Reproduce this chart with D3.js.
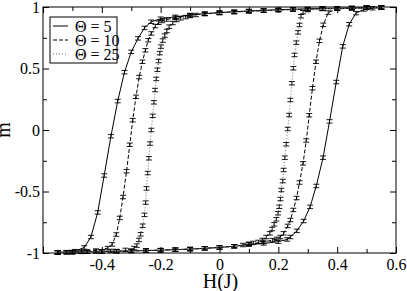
<!DOCTYPE html>
<html>
<head>
<meta charset="utf-8">
<script src="https://cdn.jsdelivr.net/npm/d3@7"></script>
<style>
  body { margin: 0; background: #fff; }
  svg { display: block; }
  .axis .domain { display: none; }
  .axis line { stroke: #000; }
</style>
</head>
<body>
<div id="chart"></div>
<script>

// Theta = 5 : rising branch (H increasing) and falling branch (H decreasing), [H, m]
var rise5 = [[-0.55,-0.995],[-0.50,-0.993],[-0.45,-0.990],[-0.40,-0.988],[-0.35,-0.985],[-0.30,-0.983],
    [-0.25,-0.980],[-0.20,-0.977],[-0.15,-0.973],[-0.10,-0.968],[-0.05,-0.962],[0.00,-0.955],[0.05,-0.945],
    [0.10,-0.930],[0.15,-0.922],[0.20,-0.908],[0.23,-0.890],[0.241,-0.870],[0.263,-0.820],[0.286,-0.740],
    [0.308,-0.625],[0.329,-0.455],[0.352,-0.225],[0.374,0.070],[0.397,0.390],[0.419,0.680],[0.441,0.860],
    [0.464,0.950],[0.49,0.980],[0.52,0.990],[0.55,0.995]];
var fall5 = [[0.55,0.997],[0.50,0.995],[0.45,0.993],[0.40,0.990],[0.35,0.988],[0.30,0.985],[0.25,0.982],
    [0.20,0.978],[0.15,0.973],[0.10,0.968],[0.05,0.962],[0.00,0.955],[-0.05,0.946],[-0.10,0.935],
    [-0.15,0.920],[-0.20,0.905],[-0.232,0.880],[-0.255,0.830],[-0.277,0.745],[-0.300,0.635],[-0.323,0.470],
    [-0.346,0.235],[-0.369,-0.050],[-0.392,-0.370],[-0.414,-0.670],[-0.437,-0.870],[-0.46,-0.955],
    [-0.49,-0.985],[-0.52,-0.993],[-0.55,-0.996]];

// Theta = 10
var rise10 = [[-0.55,-0.995],[-0.50,-0.993],[-0.45,-0.990],[-0.40,-0.988],[-0.35,-0.985],[-0.30,-0.983],
    [-0.25,-0.980],[-0.20,-0.977],[-0.15,-0.973],[-0.10,-0.968],[-0.05,-0.962],[0.00,-0.955],[0.05,-0.945],
    [0.10,-0.930],[0.15,-0.910],[0.18,-0.895],[0.195,-0.885],[0.207,-0.870],[0.218,-0.840],[0.232,-0.780],
    [0.241,-0.732],[0.251,-0.650],[0.262,-0.553],[0.272,-0.427],[0.284,-0.271],[0.295,-0.085],[0.305,0.120],
    [0.316,0.340],[0.328,0.555],[0.340,0.725],[0.353,0.855],[0.370,0.955],[0.40,0.985],[0.45,0.990],
    [0.50,0.994],[0.55,0.996]];
var fall10 = [[0.55,0.996],[0.50,0.994],[0.45,0.990],[0.40,0.987],[0.35,0.985],[0.30,0.982],[0.25,0.979],
    [0.20,0.975],[0.15,0.970],[0.10,0.965],[0.05,0.960],[0.00,0.953],[-0.05,0.945],[-0.10,0.932],
    [-0.15,0.912],[-0.18,0.898],[-0.195,0.886],[-0.207,0.872],[-0.218,0.845],[-0.232,0.785],[-0.242,0.730],
    [-0.252,0.648],[-0.262,0.555],[-0.273,0.430],[-0.284,0.270],[-0.295,0.080],[-0.305,-0.120],
    [-0.316,-0.335],[-0.328,-0.545],[-0.339,-0.715],[-0.351,-0.850],[-0.365,-0.930],[-0.38,-0.960],
    [-0.42,-0.980],[-0.47,-0.990],[-0.52,-0.994],[-0.55,-0.995]];

// Theta = 25
var rise25 = [[-0.55,-0.995],[-0.50,-0.993],[-0.45,-0.990],[-0.40,-0.988],[-0.35,-0.985],[-0.30,-0.983],
    [-0.25,-0.980],[-0.20,-0.977],[-0.15,-0.973],[-0.10,-0.968],[-0.05,-0.962],[0.00,-0.955],[0.05,-0.945],
    [0.08,-0.935],[0.10,-0.925],[0.115,-0.918],[0.132,-0.910],[0.146,-0.894],[0.159,-0.870],[0.171,-0.840],
    [0.179,-0.805],[0.186,-0.767],[0.193,-0.726],[0.199,-0.677],[0.203,-0.624],[0.207,-0.561],[0.210,-0.488],
    [0.215,-0.415],[0.218,-0.325],[0.222,-0.225],[0.227,-0.116],[0.232,0.008],[0.237,0.122],[0.241,0.244],
    [0.246,0.380],[0.251,0.502],[0.255,0.610],[0.261,0.710],[0.267,0.794],[0.272,0.854],[0.277,0.925],
    [0.284,0.958],[0.30,0.975],[0.35,0.985],[0.40,0.988],[0.45,0.991],[0.50,0.994],[0.55,0.996]];
var fall25 = [[0.55,0.996],[0.50,0.994],[0.45,0.991],[0.40,0.988],[0.35,0.985],[0.30,0.982],[0.25,0.979],
    [0.20,0.975],[0.15,0.970],[0.10,0.965],[0.05,0.958],[0.00,0.950],[-0.05,0.942],[-0.08,0.935],
    [-0.10,0.927],[-0.115,0.918],[-0.132,0.908],[-0.146,0.894],[-0.159,0.870],[-0.171,0.840],[-0.179,0.805],
    [-0.186,0.768],[-0.193,0.727],[-0.199,0.678],[-0.203,0.625],[-0.207,0.560],[-0.211,0.490],[-0.215,0.415],
    [-0.219,0.325],[-0.223,0.225],[-0.227,0.115],[-0.232,0.000],[-0.236,-0.110],[-0.240,-0.230],
    [-0.244,-0.350],[-0.248,-0.475],[-0.251,-0.590],[-0.255,-0.690],[-0.261,-0.778],[-0.268,-0.848],
    [-0.274,-0.894],[-0.281,-0.940],[-0.29,-0.960],[-0.32,-0.975],[-0.37,-0.983],[-0.42,-0.988],
    [-0.47,-0.991],[-0.52,-0.994],[-0.55,-0.995]];

var seriesNames = ["\u0398 = 5", "\u0398 = 10", "\u0398 = 25"];
var errorBar = [0.014, 0.014, 0.014];

var xMajor = [-0.6, -0.4, -0.2, 0, 0.2, 0.4, 0.6];
var xLabels = ["", "-0.4", "-0.2", "0", "0.2", "0.4", "0.6"];
var yMajor = [-1, -0.5, 0, 0.5, 1];
var yLabels = ["-1", "-0.5", "0", "0.5", "1"];

var loops = [rise5.concat(fall5), rise10.concat(fall10), rise25.concat(fall25)];
var dashes = ["none", "4,2", "1,2"];
var lineColors = ["#000", "#000", "#666"];
var serif = "'Liberation Serif'";

var margin = { top: 7, right: 11, bottom: 38, left: 43 };
var width = 407 - margin.left - margin.right,
    height = 291 - margin.top - margin.bottom;

var svg = d3.select("#chart").append("svg")
    .attr("width", 407)
    .attr("height", 291)
    .append("g")
    .attr("transform", "translate(" + margin.left + "," + margin.top + ")");

var x = d3.scaleLinear().domain([-0.6, 0.6]).range([0, width]);
var y = d3.scaleLinear().domain([-1, 1]).range([height, 0]);

// minor ticks first, then majors with labels (all ticks point inward)
svg.append("g").attr("class", "axis")
    .attr("transform", "translate(0," + height + ")")
    .call(d3.axisBottom(x).tickValues(d3.range(-0.5, 0.6, 0.2)).tickSize(-4).tickFormat(""));
svg.append("g").attr("class", "axis")
    .attr("transform", "translate(0," + height + ")")
    .call(d3.axisBottom(x).tickValues(xMajor).tickSize(-6).tickPadding(6)
        .tickFormat(function(d, i) { return xLabels[i]; }));
svg.append("g").attr("class", "axis")
    .call(d3.axisTop(x).tickValues(d3.range(-0.5, 0.6, 0.2)).tickSize(-4).tickFormat(""));
svg.append("g").attr("class", "axis")
    .call(d3.axisTop(x).tickValues(xMajor).tickSize(-6).tickFormat(""));

svg.append("g").attr("class", "axis")
    .call(d3.axisLeft(y).tickValues([-0.75, -0.25, 0.25, 0.75]).tickSize(-4).tickFormat(""));
svg.append("g").attr("class", "axis")
    .call(d3.axisLeft(y).tickValues(yMajor).tickSize(-6).tickPadding(3)
        .tickFormat(function(d, i) { return yLabels[i]; }));
svg.append("g").attr("class", "axis")
    .attr("transform", "translate(" + width + ",0)")
    .call(d3.axisRight(y).tickValues([-0.75, -0.25, 0.25, 0.75]).tickSize(-4).tickFormat(""));
svg.append("g").attr("class", "axis")
    .attr("transform", "translate(" + width + ",0)")
    .call(d3.axisRight(y).tickValues(yMajor).tickSize(-6).tickFormat(""));

svg.selectAll(".axis text")
    .style("font-family", serif)
    .style("font-size", "16px")
    .style("fill", "#000");

// frame
svg.append("rect")
    .attr("width", width)
    .attr("height", height)
    .attr("fill", "none")
    .attr("stroke", "#000");

var line = d3.line()
    .x(function(d) { return x(d[0]); })
    .y(function(d) { return y(d[1]); });

loops.forEach(function(pts, k) {
    var g = svg.append("g").attr("class", "series");

    g.append("path")
        .attr("d", line(pts))
        .attr("fill", "none")
        .attr("stroke", lineColors[k])
        .attr("stroke-width", 1)
        .attr("stroke-dasharray", dashes[k]);

    // error bars
    var bars = g.selectAll(".err").data(pts).enter().append("g").attr("class", "err");
    bars.append("line")
        .attr("x1", function(d) { return x(d[0]); })
        .attr("x2", function(d) { return x(d[0]); })
        .attr("y1", function(d) { return y(d[1] - errorBar[k]); })
        .attr("y2", function(d) { return y(d[1] + errorBar[k]); });
    bars.append("line")
        .attr("x1", function(d) { return x(d[0]) - 3; })
        .attr("x2", function(d) { return x(d[0]) + 3; })
        .attr("y1", function(d) { return y(d[1] - errorBar[k]); })
        .attr("y2", function(d) { return y(d[1] - errorBar[k]); });
    bars.append("line")
        .attr("x1", function(d) { return x(d[0]) - 3; })
        .attr("x2", function(d) { return x(d[0]) + 3; })
        .attr("y1", function(d) { return y(d[1] + errorBar[k]); })
        .attr("y2", function(d) { return y(d[1] + errorBar[k]); });
    bars.selectAll("line").attr("stroke", "#000").attr("stroke-width", 0.9);
});

// axis titles
svg.append("text")
    .attr("x", width / 2 + 1)
    .attr("y", height + 35)
    .style("text-anchor", "middle")
    .style("font-family", serif)
    .style("font-size", "20px")
    .text("H(J)");

svg.append("text")
    .attr("transform", "translate(" + (10 - margin.left) + "," + (height / 2) + ") rotate(-90)")
    .style("text-anchor", "middle")
    .style("font-family", serif)
    .style("font-size", "20px")
    .text("m");

// legend
var legend = svg.append("g").attr("transform", "translate(7,10)");
legend.append("rect")
    .attr("width", 67)
    .attr("height", 46)
    .attr("fill", "#fff")
    .attr("stroke", "#000");

seriesNames.forEach(function(name, i) {
    var row = legend.append("g").attr("transform", "translate(0," + (9 + i * 14) + ")");
    row.append("line")
        .attr("x1", 3).attr("x2", 18)
        .attr("stroke", lineColors[i])
        .attr("stroke-dasharray", dashes[i]);
    row.append("text")
        .attr("x", 25)
        .attr("dy", "0.35em")
        .style("font-family", serif)
        .style("font-size", "16px")
        .text(name);
});

</script>
</body>
</html>
